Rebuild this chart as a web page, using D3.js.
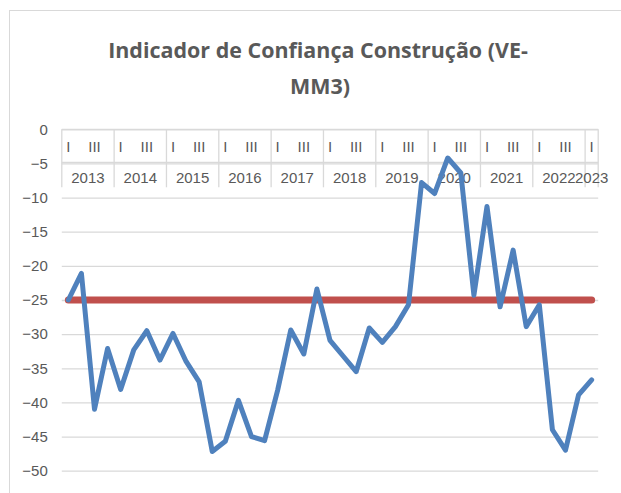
<!DOCTYPE html>
<html>
<head>
<meta charset="utf-8">
<script src="https://cdn.jsdelivr.net/npm/d3@7"></script>
<style>
  html, body { margin: 0; padding: 0; background: #fff; }
  svg { display: block; }
  text { font-family: "Liberation Sans", Arial, sans-serif; fill: #595959; }
</style>
</head>
<body>
<svg id="chart" width="621" height="493"></svg>
<script>
// ---- data ----
const titleLines = ["Indicador de Confiança Construção (VE-", "MM3)"];
const years = [2013, 2014, 2015, 2016, 2017, 2018, 2019, 2020, 2021, 2022, 2023];
const quarters = ["I", "II", "III", "IV"];
const quartersPerYear = [4, 4, 4, 4, 4, 4, 4, 4, 4, 4, 1];
const values = [-25.0, -21.1, -41.0, -32.1, -38.1, -32.3, -29.5, -33.8, -29.9, -34.0,
  -37.0, -47.2, -45.7, -39.7, -45.0, -45.6, -38.2, -29.4, -32.9, -23.4,
  -30.9, -33.2, -35.5, -29.1, -31.2, -28.9, -25.7, -7.8, -9.4, -4.2,
  -6.4, -24.3, -11.3, -26.0, -17.7, -28.9, -25.7, -44.0, -47.0, -38.9, -36.7];
const referenceValue = -25;
const yTicks = [0, -5, -10, -15, -20, -25, -30, -35, -40, -45, -50];

// categories built from years × quarters
const categories = [];
years.forEach((yr, i) => {
  for (let q = 0; q < quartersPerYear[i]; q++) categories.push({ key: yr + "-" + quarters[q], year: yr, q: q });
});

const svg = d3.select("#chart");
const plot = { left: 61.8, right: 598.2, top: 129.3, bottom: 470.7 };
const grid = "#D9D9D9";
const axisFont = 15;

// chart border
svg.append("rect").attr("x", 9.5).attr("y", 10.5).attr("width", 700).attr("height", 700)
  .attr("fill", "none").attr("stroke", grid).attr("stroke-width", 1);

const x = d3.scaleBand().domain(categories.map(d => d.key)).range([plot.left, plot.right]).padding(0);
const y = d3.scaleLinear().domain([-50, 0]).range([plot.bottom, plot.top]);
const cx = k => x(k) + x.bandwidth() / 2;

// title
const title = svg.append("g");
const t1 = title.append("text").attr("x", 318).attr("y", 58)
  .attr("text-anchor", "middle").attr("font-size", 22).attr("font-weight", "bold")
  .style("font-family", "\"Open Sans\", sans-serif").text(titleLines[0]);
const len = t1.node().getComputedTextLength();
const titleSize = 22 * 420 / len;
t1.attr("font-size", titleSize);
title.append("text").attr("x", 320).attr("y", 94)
  .attr("text-anchor", "middle").attr("font-size", titleSize).attr("font-weight", "bold")
  .style("font-family", "\"Open Sans\", sans-serif").text(titleLines[1]);

// gridlines + y axis labels
const yAxis = d3.axisLeft(y).tickValues(yTicks).tickSize(-(plot.right - plot.left)).tickPadding(14)
  .tickFormat(d3.format("d"));
const yg = svg.append("g").attr("transform", `translate(${plot.left},0)`).call(yAxis);
yg.select(".domain").remove();
yg.selectAll(".tick line").attr("stroke", grid).attr("stroke-width", 1.3);
yg.selectAll(".tick text").attr("font-size", axisFont).attr("fill", "#595959")
  .attr("font-family", "\"Liberation Sans\", Arial, sans-serif");

// category axis (multi-level) at y = 0
const axTop = y(0);
const rowSep = axTop + 33;
const axBottom = axTop + 58;
const ax = svg.append("g");
ax.append("line").attr("x1", plot.left).attr("x2", plot.right).attr("y1", axTop).attr("y2", axTop)
  .attr("stroke", grid).attr("stroke-width", 1.3);
ax.append("line").attr("x1", plot.left).attr("x2", plot.right).attr("y1", rowSep).attr("y2", rowSep)
  .attr("stroke", grid).attr("stroke-width", 1.3);
// year boundaries
const yearStarts = categories.filter(d => d.q === 0).map(d => x(d.key));
yearStarts.concat([plot.right]).forEach(px => {
  ax.append("line").attr("x1", px).attr("x2", px).attr("y1", axTop).attr("y2", axBottom)
    .attr("stroke", grid).attr("stroke-width", 1.3);
});
// quarter labels (every other label shown)
ax.selectAll(".ql").data(categories.filter(d => d.q % 2 === 0)).join("text")
  .attr("x", d => cx(d.key)).attr("y", axTop + 22.5)
  .attr("text-anchor", "middle").attr("font-size", axisFont).text(d => quarters[d.q]);
// year labels
years.forEach((yr) => {
  const ks = categories.filter(d => d.year === yr);
  const x0 = x(ks[0].key), x1 = x(ks[ks.length - 1].key) + x.bandwidth();
  ax.append("text").attr("x", (x0 + x1) / 2).attr("y", axTop + 54)
    .attr("text-anchor", "middle").attr("font-size", axisFont).text(yr);
});

// reference line
svg.append("path")
  .attr("d", d3.line().x(d => cx(d.key)).y(() => y(referenceValue))(categories))
  .attr("fill", "none").attr("stroke", "#C0504D").attr("stroke-width", 7).attr("stroke-linecap", "round");

// series line
svg.append("path")
  .attr("d", d3.line().x((d, i) => cx(categories[i].key)).y(d => y(d))(values))
  .attr("fill", "none").attr("stroke", "#4F81BD").attr("stroke-width", 5)
  .attr("stroke-linejoin", "round").attr("stroke-linecap", "round");
</script>
</body>
</html>
